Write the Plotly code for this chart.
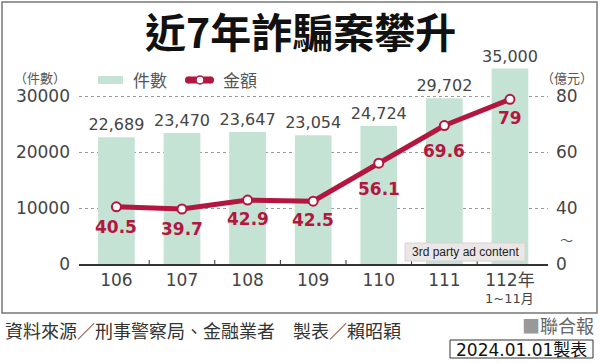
import plotly.graph_objects as go

# ---- data ----
categories = ["106", "107", "108", "109", "110", "111", "112"]
tick_labels = ["106", "107", "108", "109", "110", "111", "112年"]
last_sub_label = "1~11月"
cases = [22689, 23470, 23647, 23054, 24724, 29702, 35000]
amount = [40.5, 39.7, 42.9, 42.5, 56.1, 69.6, 79]
left_ticks = [0, 10000, 20000, 30000]
right_tickvals = [20, 40, 60, 80]
right_ticktext = ["0", "40", "60", "80"]

# label offsets (pixels below markers) - style
label_dy = [20, 20, 19, 19, 26, 25, 19]

BAR = "#c5e3d4"
RED = "#b3173f"
GRAY = "#444444"
CJK = "Noto Sans CJK TC"
NUM = "DejaVu Sans, Noto Sans CJK TC"

PL, PR, PT, PB = 79, 548, 63, 264
W, H = 600, 363


def fx(px):
    return (px - PL) / (PR - PL)


def fy(py):
    return (PB - py) / (PB - PT)


fig = go.Figure()
fig.add_trace(go.Bar(
    x=categories, y=cases, width=0.56, marker=dict(color=BAR, line=dict(width=0)),
    texttemplate="%{y:,}", textposition="outside", constraintext="none",
    textfont=dict(family=NUM, size=16, color=GRAY), cliponaxis=False,
    showlegend=False, hoverinfo="skip"))
fig.add_trace(go.Scatter(
    x=categories, y=amount, yaxis="y2", mode="lines+markers",
    line=dict(color=RED, width=5),
    marker=dict(size=9, color="white", line=dict(color=RED, width=2)),
    showlegend=False, cliponaxis=False, hoverinfo="skip"))

shapes = []
# outer border
shapes.append(dict(type="rect", xref="paper", yref="paper", x0=fx(2), x1=fx(597),
                   y0=fy(313), y1=fy(2), line=dict(color="#777777", width=1.5)))
# legend symbols
shapes.append(dict(type="rect", xref="paper", yref="paper", x0=fx(98), x1=fx(123),
                   y0=fy(84), y1=fy(76), fillcolor=BAR, line=dict(width=0)))
shapes.append(dict(type="line", xref="paper", yref="paper", x0=fx(188), x1=fx(211),
                   y0=fy(80), y1=fy(80), line=dict(color=RED, width=7)))
shapes.append(dict(type="circle", xref="paper", yref="paper", x0=fx(185), x1=fx(191),
                   y0=fy(83.5), y1=fy(76.5), fillcolor=RED, line=dict(width=0)))
shapes.append(dict(type="circle", xref="paper", yref="paper", x0=fx(208), x1=fx(214),
                   y0=fy(83.5), y1=fy(76.5), fillcolor=RED, line=dict(width=0)))
shapes.append(dict(type="circle", xref="paper", yref="paper", x0=fx(196), x1=fx(204),
                   y0=fy(84), y1=fy(76), fillcolor="white", line=dict(color=RED, width=1.5)))
# category boundary ticks
for i in range(len(categories) - 1):
    shapes.append(dict(type="line", xref="x", yref="paper", x0=i + 0.5, x1=i + 0.5,
                       y0=0, y1=fy(260), line=dict(color="#333333", width=1)))
# ad overlay box
shapes.append(dict(type="rect", xref="paper", yref="paper", x0=fx(405), x1=fx(525),
                   y0=fy(261), y1=fy(243), fillcolor="#ebe7e7",
                   line=dict(color="#d6d2d2", width=1)))
# date box
shapes.append(dict(type="rect", xref="paper", yref="paper", x0=fx(450), x1=fx(593),
                   y0=fy(358), y1=fy(340), line=dict(color="#333333", width=1)))

ann = []


def txt(text, px, py, size, color="#555555", family=CJK, xanchor="center", **kw):
    ann.append(dict(text=text, x=fx(px), y=fy(py), xref="paper", yref="paper",
                    showarrow=False, xanchor=xanchor, yanchor="middle",
                    font=dict(family=family, size=size, color=color), **kw))


txt("<b>近7年詐騙案攀升</b>", 300, 30, 41, color="#111111")
txt("（件數）", 40, 77, 13)
txt("件數", 131, 79, 17, xanchor="left")
txt("金額", 221, 79, 17, xanchor="left")
txt("（億元）", 567, 77, 13)
txt("～", 566, 239, 13)
txt("資料來源／刑事警察局、金融業者　製表／賴昭穎", 3, 330, 18, color="#333333",
    xanchor="left")
txt("<span style='color:#999999'>■</span>聯合報", 596, 325, 18, color="#666666",
    xanchor="right")
txt("2024.01.01製表", 521.5, 349.5, 17, color="#111111", family=NUM)
txt("3rd party ad content", 465, 252, 12, color="#222222",
    family="Liberation Sans")

# sub label under last category
ann.append(dict(text=last_sub_label, x=len(categories) - 1, y=fy(298), xref="x",
                yref="paper", showarrow=False, xanchor="center", yanchor="middle",
                font=dict(family=NUM, size=13, color=GRAY)))

# line value labels
for i, v in enumerate(amount):
    ann.append(dict(text="<b>%g</b>" % v, x=i, y=v, xref="x", yref="y2",
                    showarrow=False, yshift=-label_dy[i], yanchor="middle",
                    font=dict(family="DejaVu Sans", size=17, color=RED)))

ymax = 36000
fig.update_layout(
    width=W, height=H, margin=dict(l=PL, r=W - PR, t=PT, b=H - PB),
    paper_bgcolor="white", plot_bgcolor="white",
    xaxis=dict(type="category", range=[-0.57, 6.58], tickvals=categories,
               ticktext=tick_labels, showline=True, linecolor="#333333", linewidth=2,
               ticks="", showgrid=False, zeroline=False, ticklabelstandoff=0,
               tickfont=dict(family=NUM, size=17, color=GRAY)),
    yaxis=dict(range=[0, ymax], tickvals=left_ticks, tickformat="d",
               showgrid=True, gridcolor="#9a9a9a", griddash="dot", gridwidth=1,
               zeroline=False, showline=False, ticks="", ticklabelstandoff=8,
               tickfont=dict(family=NUM, size=17, color=GRAY)),
    yaxis2=dict(overlaying="y", side="right", range=[20, 20 + ymax / 500],
                tickvals=right_tickvals, ticktext=right_ticktext, showgrid=False,
                zeroline=False, showline=False, ticks="", ticklabelstandoff=7,
                tickfont=dict(family=NUM, size=17, color=GRAY)),
    shapes=shapes, annotations=ann, bargap=0.4,
)

fig.write_html("out.html", config={"displayModeBar": False},
               post_script="document.body.style.margin='0';"
                           "document.body.style.padding='0';")
